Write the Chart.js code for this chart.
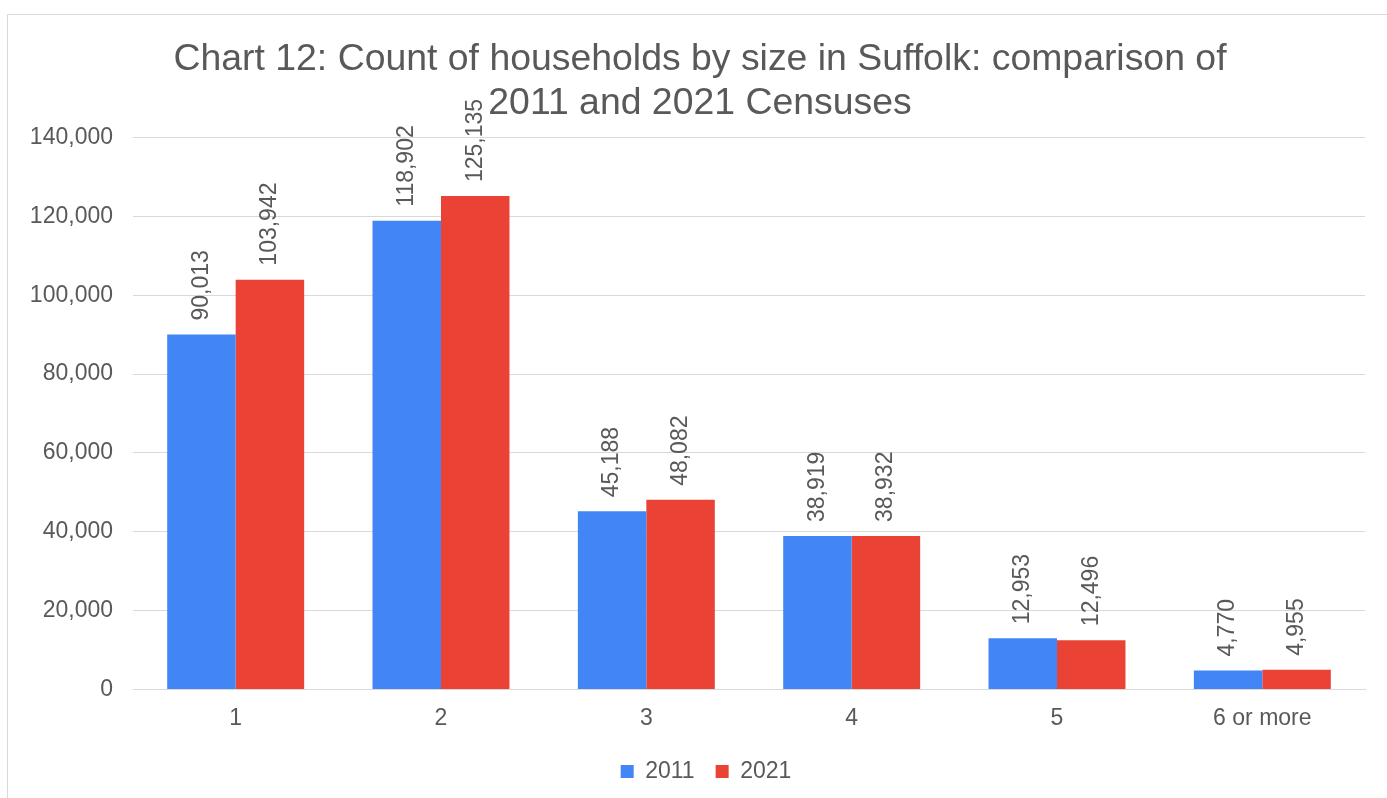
<!DOCTYPE html>
<html>
<head>
<meta charset="utf-8">
<script src="https://cdn.jsdelivr.net/npm/chart.js@4.4.0/dist/chart.umd.min.js"></script>
<style>
  body { margin: 0; background: #fff; overflow: hidden; }
  #box { position: absolute; left: 7px; top: 14px; width: 1386px; height: 790px; border: 1px solid #d9d9d9; box-sizing: border-box; }
</style>
</head>
<body>
<div id="box"><canvas id="myChart" width="1384" height="788"></canvas></div>
<script>
const categories = ['1', '2', '3', '4', '5', '6 or more'];
const values2011 = [90013, 118902, 45188, 38919, 12953, 4770];
const values2021 = [103942, 125135, 48082, 38932, 12496, 4955];
const yTicks = [0, 20000, 40000, 60000, 80000, 100000, 120000, 140000];

const textColor = '#595959';
const fontFamily = '"Liberation Sans", Arial, sans-serif';

// value labels, rotated, sitting on top of each bar
const barLabels = {
  id: 'barLabels',
  afterDatasetsDraw(chart) {
    const ctx = chart.ctx;
    ctx.save();
    ctx.fillStyle = textColor;
    ctx.font = '23px ' + fontFamily;
    ctx.textAlign = 'left';
    ctx.textBaseline = 'middle';
    chart.data.datasets.forEach((ds, i) => {
      chart.getDatasetMeta(i).data.forEach((bar, j) => {
        ctx.save();
        ctx.translate(bar.x, bar.y - 14);
        ctx.rotate(-Math.PI / 2);
        ctx.fillText(ds.data[j].toLocaleString('en-GB'), 0, 0);
        ctx.restore();
      });
    });
    ctx.restore();
  }
};

// centre title and legend over the whole canvas, not just the padded box
const centreBlocks = {
  id: 'centreBlocks',
  afterLayout(chart) {
    if (chart.titleBlock) {
      chart.titleBlock.left = 0;
      chart.titleBlock.right = chart.width;
    }
    if (chart.legend) {
      chart.legend.left = 12;
      chart.legend.right = chart.width;
    }
  }
};

const ctx = document.getElementById('myChart').getContext('2d');
const myChart = new Chart(ctx, {
  type: 'bar',
  data: {
    labels: categories,
    datasets: [{
      label: '2011',
      data: values2011,
      backgroundColor: '#4285F4'
    }, {
      label: '2021',
      data: values2021,
      backgroundColor: '#EA4335'
    }]
  },
  options: {
    responsive: false,
    animation: false,
    categoryPercentage: 0.667,
    barPercentage: 1.0,
    layout: { padding: { left: 10, right: 27, top: 0, bottom: 10 } },
    plugins: {
      title: {
        display: true,
        text: ['Chart 12: Count of households by size in Suffolk: comparison of', '2011 and 2021 Censuses'],
        color: textColor,
        font: { family: fontFamily, size: 37.4, weight: 'normal', lineHeight: 1.17 },
        padding: { top: 23, bottom: 12 }
      },
      legend: {
        position: 'bottom',
        labels: {
          color: textColor,
          font: { family: fontFamily, size: 23 },
          boxWidth: 13,
          boxHeight: 13,
          padding: 21
        }
      },
      tooltip: { enabled: false }
    },
    scales: {
      x: {
        grid: { display: false },
        border: { color: '#d9d9d9' },
        ticks: { color: textColor, font: { family: fontFamily, size: 23 }, padding: 7 }
      },
      y: {
        min: 0,
        max: 140000,
        afterBuildTicks: (scale) => { scale.ticks = yTicks.map(v => ({ value: v })); },
        afterFit: (scale) => { scale.width = 115; },
        grid: { color: '#d9d9d9', drawTicks: false },
        border: { display: false },
        ticks: {
          color: textColor,
          font: { family: fontFamily, size: 23 },
          padding: 20,
          callback: (v) => v.toLocaleString('en-GB')
        }
      }
    }
  },
  plugins: [barLabels, centreBlocks]
});
</script>
</body>
</html>
